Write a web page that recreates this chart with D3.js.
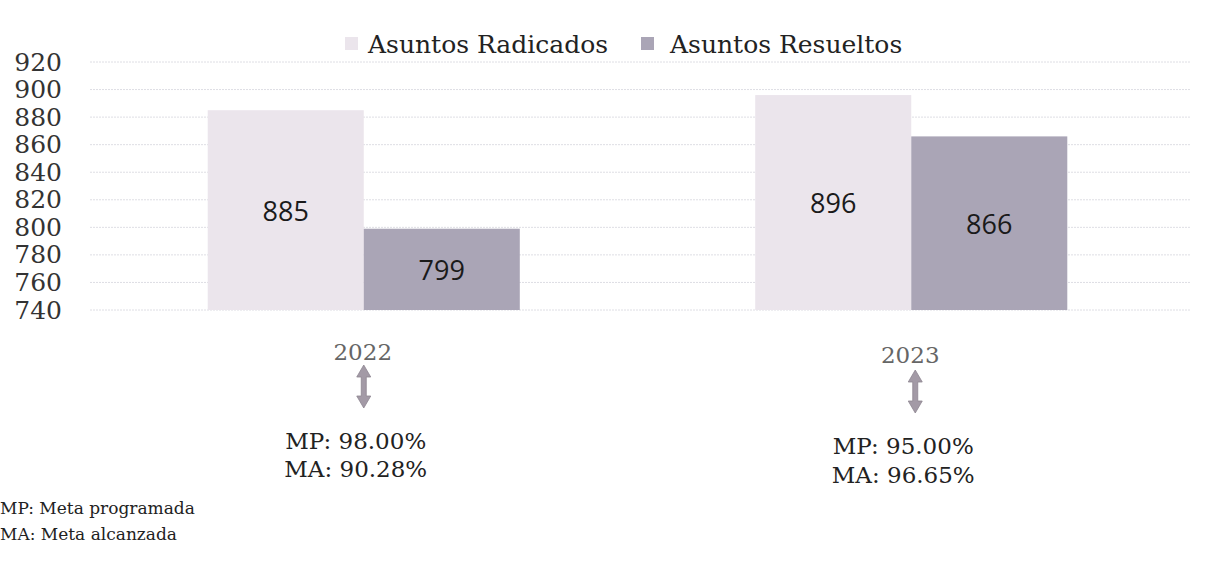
<!DOCTYPE html>
<html>
<head>
<meta charset="utf-8">
<script src="https://cdn.jsdelivr.net/npm/d3@7"></script>
<style>
  body { margin: 0; background: #fff; }
</style>
</head>
<body>
<svg id="chart"></svg>
<script>
// chart values
const years = ["2022", "2023"];
const radicados = [885, 896];
const resueltos = [799, 866];
const metaProgramada = ["98.00%", "95.00%"];
const metaAlcanzada = ["90.28%", "96.65%"];
const yTicks = [740, 760, 780, 800, 820, 840, 860, 880, 900, 920];
const seriesNames = ["Asuntos Radicados", "Asuntos Resueltos"];
const notes = ["MP: Meta programada", "MA: Meta alcanzada"];

const width = 1215, height = 567;
const serif = "'DejaVu Serif', 'Liberation Serif', serif";
const sans = "'Open Sans', sans-serif";
const colors = ["#ebe5ec", "#aaa5b6"];

let svg = d3.select("#chart")
    .attr("width", width)
    .attr("height", height);

let x0 = d3.scaleBand().domain(years).range([90, 1185])
    .paddingInner(0.43).paddingOuter(0.215);
let x1 = d3.scaleBand().domain(seriesNames).range([0, x0.bandwidth()]);
let y = d3.scaleLinear().domain([740, 920]).range([310, 62]);

// gridlines (faint dotted)
svg.append("g")
    .selectAll("line")
    .data(yTicks)
    .join("line")
    .attr("x1", 90)
    .attr("x2", 1190)
    .attr("y1", d => y(d))
    .attr("y2", d => y(d))
    .attr("stroke", "#dedee4")
    .attr("stroke-width", 1)
    .attr("stroke-dasharray", "2,1");

// y axis labels
let yAxis = svg.append("g")
    .attr("transform", "translate(62,0)")
    .call(d3.axisLeft(y).tickValues(yTicks).tickSize(0).tickPadding(0));
yAxis.select(".domain").remove();
yAxis.selectAll("text")
    .attr("font-family", serif)
    .attr("font-size", "25px")
    .attr("fill", "#333");

// bars
let groups = years.map((yr, i) => ({ year: yr, values: [radicados[i], resueltos[i]] }));

let g = svg.append("g")
    .selectAll("g")
    .data(groups)
    .join("g")
    .attr("transform", d => `translate(${x0(d.year)},0)`);

g.selectAll("rect")
    .data(d => d.values.map((v, k) => ({ key: seriesNames[k], value: v, k: k })))
    .join("rect")
    .attr("x", d => x1(d.key))
    .attr("y", d => y(d.value))
    .attr("width", x1.bandwidth())
    .attr("height", d => y(740) - y(d.value))
    .attr("fill", d => colors[d.k]);

g.selectAll("text")
    .data(d => d.values.map((v, k) => ({ key: seriesNames[k], value: v })))
    .join("text")
    .attr("x", d => x1(d.key) + x1.bandwidth() / 2)
    .attr("y", d => (y(d.value) + y(740)) / 2)
    .attr("text-anchor", "middle")
    .attr("dominant-baseline", "central")
    .attr("font-family", sans)
    .attr("font-size", "27px")
    .attr("fill", "#1a1a1a")
    .text(d => d.value);

// legend
const swatchX = [345, 641];
const labelX = [368, 670];
let legend = svg.append("g");
seriesNames.forEach((name, k) => {
    legend.append("rect")
        .attr("x", swatchX[k])
        .attr("y", 37)
        .attr("width", 13)
        .attr("height", 13)
        .attr("fill", colors[k]);
    legend.append("text")
        .attr("x", labelX[k])
        .attr("y", 44)
        .attr("dominant-baseline", "central")
        .attr("font-family", serif)
        .attr("font-size", "25px")
        .attr("fill", "#222")
        .text(name);
});

// year labels, arrows and goals
let below = svg.append("g")
    .selectAll("g")
    .data(years)
    .join("g")
    .attr("transform", d => `translate(${x0(d) + x0.bandwidth() / 2},0)`);

below.append("text")
    .attr("x", -1)
    .attr("y", (d, i) => 360 + i * 3)
    .attr("text-anchor", "middle")
    .attr("font-family", serif)
    .attr("font-size", "23px")
    .attr("fill", "#666")
    .text(d => d);

// double-headed arrow
below.append("path")
    .attr("transform", (d, i) => `translate(${i * 4},${i * 5})`)
    .attr("d", "M0,365 L-7,377 L-2.5,377 L-2.5,396 L-7,396 L0,408 L7,396 L2.5,396 L2.5,377 L7,377 Z")
    .attr("fill", "#a39aa6")
    .attr("stroke", "#8d8590")
    .attr("stroke-width", 0.8);

below.append("text")
    .attr("x", -8)
    .attr("y", (d, i) => 449 + i * 5)
    .attr("text-anchor", "middle")
    .attr("font-family", serif)
    .attr("font-size", "23px")
    .attr("fill", "#222")
    .text((d, i) => `MP: ${metaProgramada[i]}`);

below.append("text")
    .attr("x", -8)
    .attr("y", (d, i) => 477 + i * 6)
    .attr("text-anchor", "middle")
    .attr("font-family", serif)
    .attr("font-size", "23px")
    .attr("fill", "#222")
    .text((d, i) => `MA: ${metaAlcanzada[i]}`);

// footnote
svg.append("g")
    .selectAll("text")
    .data(notes)
    .join("text")
    .attr("x", 0)
    .attr("y", (d, i) => 514 + i * 26)
    .attr("font-family", serif)
    .attr("font-size", "17px")
    .attr("fill", "#222")
    .text(d => d);
</script>
</body>
</html>
